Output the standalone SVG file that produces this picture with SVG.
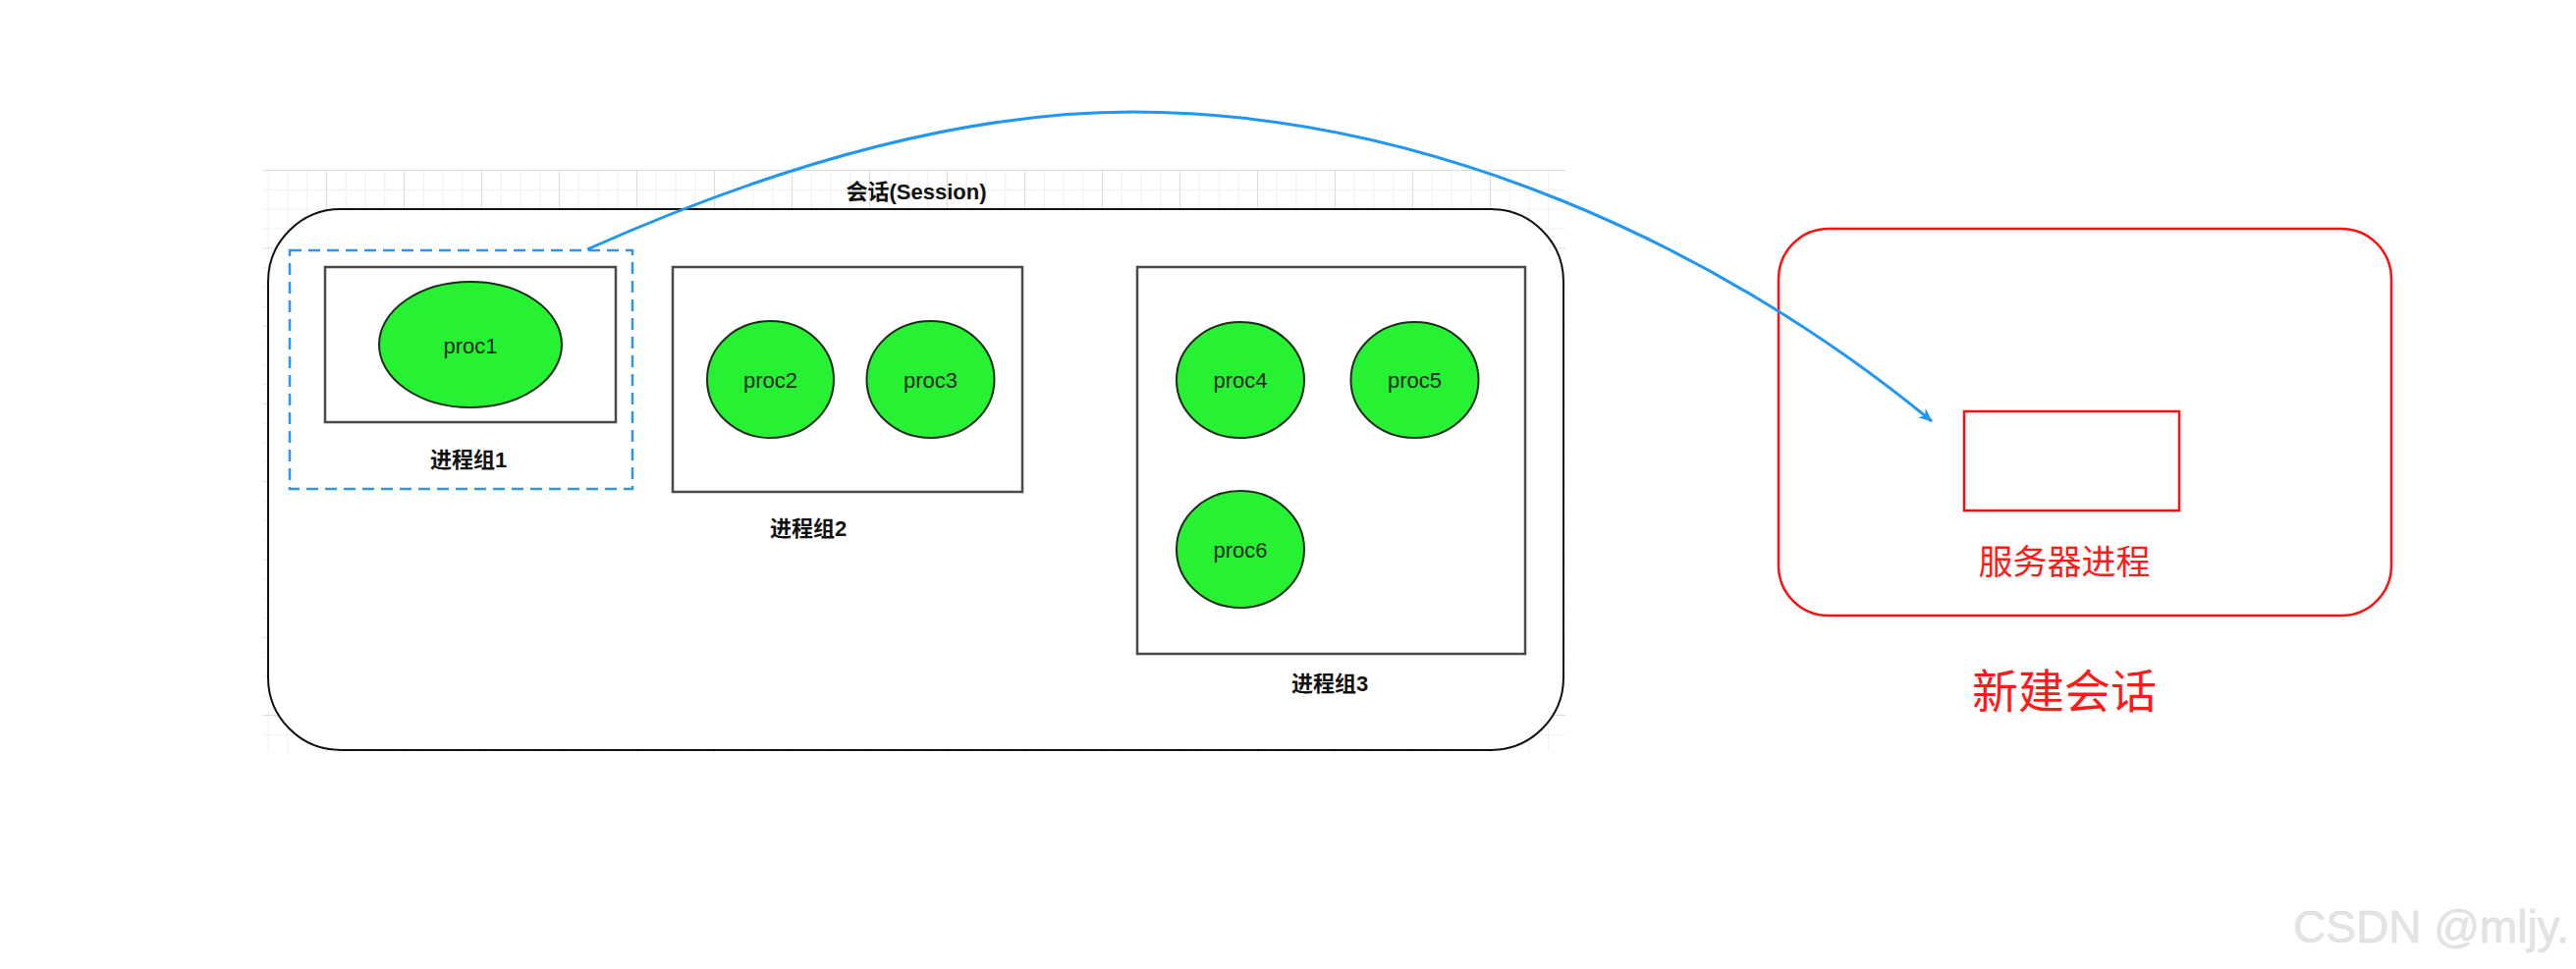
<svg xmlns="http://www.w3.org/2000/svg" width="2623" height="987" viewBox="0 0 2623 987">
<style>
  .grp{fill:#fff;stroke:#4a4a4a;stroke-width:2.5}
  .proc{fill:#26f233;stroke:#1b2b1b;stroke-width:2}
  .pt{font-family:"Liberation Sans",Arial,sans-serif;font-size:22px;fill:#1a2a1a;text-anchor:middle;dominant-baseline:central}
  .gl{font-family:"Liberation Sans","Noto Sans CJK SC",sans-serif;font-size:22px;font-weight:bold;fill:#111;text-anchor:middle;dominant-baseline:central}
  .red{font-family:"Noto Sans CJK SC",sans-serif;fill:#ff1a1a;text-anchor:middle;dominant-baseline:central}
  .mn{stroke:#efefef;stroke-width:1;fill:none}
  .mj{stroke:#dcdcdc;stroke-width:1;fill:none}
</style>
<defs>
  <pattern id="grid" x="332" y="173" width="79" height="79.3" patternUnits="userSpaceOnUse">
    <path class="mn" d="M20.25,0V79.3M40,0V79.3M59.75,0V79.3M0,20.3H79M0,40.1H79M0,59.9H79"/>
    <path class="mj" d="M0.5,0V79.3M0,0.5H79"/>
  </pattern>
  <marker id="arr" viewBox="0 0 14 12" refX="13" refY="6" markerWidth="14" markerHeight="12" markerUnits="userSpaceOnUse" orient="auto">
    <path d="M0,0 L14,6 L0,12 L4,6 z" fill="#2196f3"/>
  </marker>
</defs>
<rect width="2623" height="987" fill="#fff"/>
<rect x="268" y="173" width="1326" height="593" fill="url(#grid)"/>

<g id="session">
  <rect x="273" y="213" width="1319" height="551" rx="74" ry="74" fill="#fff" stroke="#111" stroke-width="2"/>
  <text class="gl" x="933" y="195">会话(Session)</text>
</g>

<g id="group1-select">
  <rect x="295" y="255" width="349" height="243" fill="none" stroke="#2b95ef" stroke-width="2.5" stroke-dasharray="12 7"/>
</g>

<g id="group1">
  <rect class="grp" x="331" y="272" width="296" height="158"/>
  <text class="gl" x="477" y="468">进程组1</text>
</g>
<g id="proc1">
  <ellipse class="proc" cx="479" cy="351" rx="93" ry="64"/>
  <text class="pt" x="479" y="352">proc1</text>
</g>

<g id="group2">
  <rect class="grp" x="685" y="272" width="356" height="229"/>
  <text class="gl" x="823" y="538">进程组2</text>
</g>
<g id="proc2">
  <ellipse class="proc" cx="784.5" cy="386.5" rx="64.5" ry="59.5"/>
  <text class="pt" x="784.5" y="387">proc2</text>
</g>
<g id="proc3">
  <ellipse class="proc" cx="947.5" cy="386.5" rx="65" ry="59.5"/>
  <text class="pt" x="947.5" y="387">proc3</text>
</g>

<g id="group3">
  <rect class="grp" x="1158" y="272" width="395" height="394"/>
  <text class="gl" x="1354" y="696">进程组3</text>
</g>
<g id="proc4">
  <ellipse class="proc" cx="1263" cy="387" rx="65" ry="59"/>
  <text class="pt" x="1263" y="387">proc4</text>
</g>
<g id="proc5">
  <ellipse class="proc" cx="1440.5" cy="387" rx="65" ry="59"/>
  <text class="pt" x="1440.5" y="387">proc5</text>
</g>
<g id="proc6">
  <ellipse class="proc" cx="1263" cy="559.5" rx="65" ry="59.5"/>
  <text class="pt" x="1263" y="560">proc6</text>
</g>

<g id="new-session">
  <rect x="1811" y="233" width="624" height="394" rx="51" ry="51" fill="none" stroke="#ff1010" stroke-width="2.5"/>
  <text class="red" x="2102" y="700" font-size="47">新建会话</text>
</g>
<g id="server-process">
  <rect x="2000" y="419" width="219" height="101" fill="none" stroke="#ff1010" stroke-width="2.5"/>
  <text class="red" x="2102" y="569" font-size="35">服务器进程</text>
</g>

<g id="connectors">
  <path d="M598,254 Q912,114 1153,114 C1453,114 1751,251 1967,429" fill="none" stroke="#2196f3" stroke-width="3" marker-end="url(#arr)"/>
</g>

<text x="2616" y="960" text-anchor="end" font-family="'Liberation Sans',Arial,sans-serif" font-size="46" fill="#e4e4e4" stroke="#d6d6d6" stroke-width="0.4">CSDN @mljy.</text>
</svg>
